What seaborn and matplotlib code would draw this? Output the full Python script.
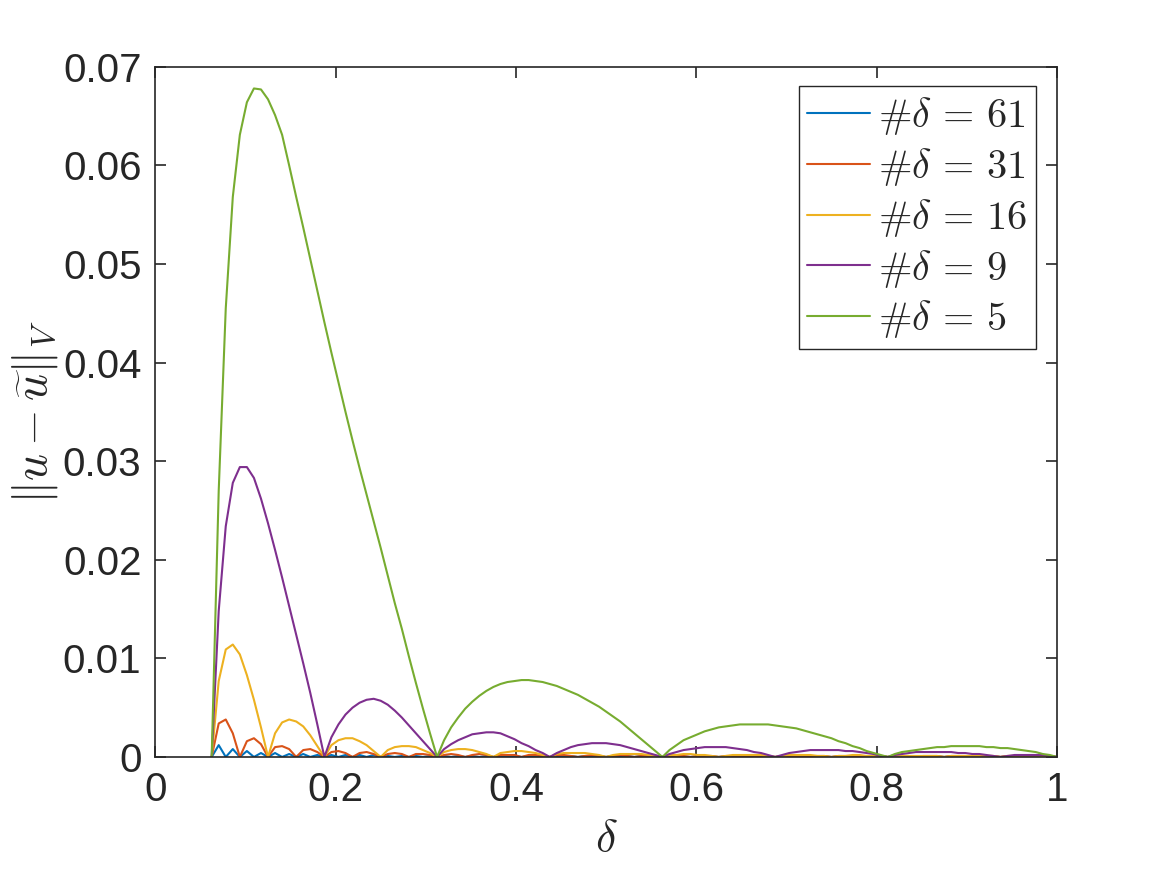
import numpy as np
import pandas as pd
import seaborn as sns
from matplotlib import pyplot as plt

# sampling grid of delta: k/128, k = 8..128 (vertex spacing)
delta = np.arange(8, 129) / 128

# error values, in units of 1e-4
err_61 = [0, 12, 0, 8, 0, 6, 0, 4, 0,
          4, 0, 3, 0, 3, 0, 2, 0,
          2, 0, 2, 0, 2, 0, 2, 0,
          1, 0, 1, 0, 1, 0, 1, 0,
          1, 0, 1, 0, 1, 0, 1, 0,
          1, 0, 1, 0, 1, 0, 1, 0,
          1, 0, 1, 0, 1, 0, 1, 0,
          1, 0, 1, 0, 1, 0, 1, 0,
          0.5, 0, 0.5, 0, 0.5, 0, 0.5, 0,
          0.5, 0, 0.5, 0, 0.5, 0, 0.5, 0,
          0.5, 0, 0.5, 0, 0.5, 0, 0.5, 0,
          0.5, 0, 0.5, 0, 0.5, 0, 0.5, 0,
          0.5, 0, 0.5, 0, 0.5, 0, 0.5, 0,
          0.5, 0, 0.5, 0, 0.5, 0, 0.5, 0,
          0.5, 0, 0.5, 0, 0.5, 0, 0.5, 0]
err_31 = [0, 34, 38, 24, 0, 16, 19, 13, 0,
          10, 11, 8, 0, 7, 8, 5, 0,
          5, 6, 4, 0, 4, 5, 3, 0,
          3, 4, 3, 0, 3, 3, 2, 0,
          2, 3, 2, 0, 2, 3, 2, 0,
          2, 2, 2, 0, 2, 2, 1, 0,
          2, 2, 1, 0, 1, 2, 1, 0,
          1, 2, 1, 0, 1, 1, 1, 0,
          1, 1, 1, 0, 1, 1, 1, 0,
          1, 1, 1, 0, 1, 1, 1, 0,
          1, 1, 1, 0, 1, 1, 1, 0,
          1, 1, 1, 0, 1, 1, 1, 0,
          1, 1, 1, 0, 1, 1, 1, 0,
          1, 1, 1, 0, 1, 1, 1, 0,
          1, 1, 1, 0, 1, 1, 1, 0]
err_16 = [0, 77, 109, 114, 104, 83, 58, 30, 0,
          24, 35, 38, 36, 31, 22, 11, 0,
          12, 17, 19, 19, 16, 12, 6, 0,
          7, 10, 11, 11, 10, 7, 4, 0,
          5, 7, 8, 8, 7, 5, 3, 0,
          4, 5, 6, 6, 5, 4, 2, 0,
          3, 4, 4, 4, 4, 3, 2, 0,
          2, 3, 3, 3, 3, 2, 1, 0,
          2, 2, 3, 3, 2, 2, 1, 0,
          1, 2, 2, 2, 2, 2, 1, 0,
          1, 2, 2, 2, 2, 1, 1, 0,
          1, 1, 2, 2, 1, 1, 1, 0,
          1, 1, 1, 1, 1, 1, 1, 0,
          1, 1, 1, 1, 1, 1, 1, 0,
          1, 1, 1, 1, 1, 1, 0, 0]
err_9 = [0, 148, 234, 278, 294, 294, 283, 262, 237,
         210, 182, 153, 124, 95, 65, 33, 0,
         20, 33, 43, 50, 55, 58, 59, 57,
         53, 47, 40, 32, 24, 16, 8, 0,
         8, 13, 17, 20, 23, 24, 25, 25,
         24, 21, 18, 14, 11, 7, 4, 0,
         4, 7, 10, 12, 13, 14, 14, 14,
         13, 12, 10, 8, 6, 4, 2, 0,
         3, 5, 7, 8, 9, 10, 10, 10,
         10, 9, 8, 7, 5, 4, 2, 0,
         2, 4, 5, 6, 7, 7, 7, 7,
         7, 6, 6, 5, 4, 3, 1, 0,
         2, 3, 4, 5, 5, 5, 5, 5,
         5, 4, 4, 3, 3, 2, 1, 0,
         1, 2, 2, 2, 2, 2, 1, 0]
err_5 = [0, 270, 455, 568, 631, 664, 678, 677, 667,
         651, 631, 600, 568, 537, 505, 473, 441,
         410, 380, 350, 321, 293, 266, 239, 212,
         184, 156, 130, 102, 75, 49, 24, 0,
         17, 30, 40, 49, 56, 62, 67, 71,
         74, 76, 77, 78, 78, 77, 76, 74,
         72, 69, 66, 63, 59, 55, 51, 46,
         41, 36, 30, 24, 18, 12, 6, 0,
         7, 12, 17, 20, 23, 26, 28, 30,
         31, 32, 33, 33, 33, 33, 33, 32,
         31, 30, 29, 27, 25, 23, 21, 19,
         16, 14, 11, 9, 6, 4, 2, 0,
         3, 5, 6, 7, 8, 9, 10, 10,
         11, 11, 11, 11, 11, 10, 10, 9,
         9, 8, 7, 6, 5, 3, 2, 0]

labels = [r'$\#\delta\, =\, 61$', r'$\#\delta\, =\, 31$', r'$\#\delta\, =\, 16$',
          r'$\#\delta\, =\, 9$', r'$\#\delta\, =\, 5$']
series = [err_61, err_31, err_16, err_9, err_5]
colors = ['#0072BD', '#D95319', '#EDB120', '#7E2F8E', '#77AC30']

x_ticks = [0, 0.2, 0.4, 0.6, 0.8, 1]
x_tick_labels = ['0', '0.2', '0.4', '0.6', '0.8', '1']
y_ticks = [0, 0.01, 0.02, 0.03, 0.04, 0.05, 0.06, 0.07]
y_tick_labels = ['0', '0.01', '0.02', '0.03', '0.04', '0.05', '0.06', '0.07']

frames = []
for lab, vals in zip(labels, series):
    frames.append(pd.DataFrame({'delta': delta, 'err': np.array(vals) * 1e-4, 'label': lab}))
data = pd.concat(frames, ignore_index=True)

sns.set_theme(style="ticks")
plt.rcParams['font.family'] = ['Liberation Sans', 'DejaVu Sans']
plt.rcParams['mathtext.fontset'] = 'cm'

fig = plt.figure(figsize=(11.67, 8.75), dpi=100)
ax = fig.add_axes([0.1331, 0.1349, 0.7725, 0.7888])

sns.lineplot(data=data, x='delta', y='err', hue='label', hue_order=labels,
             palette=colors, linewidth=1.5, estimator=None, sort=False, ax=ax)

ax.set_xlim(0, 1)
ax.set_ylim(0, 0.07)
ax.set_xticks(x_ticks)
ax.set_xticklabels(x_tick_labels)
ax.set_yticks(y_ticks)
ax.set_yticklabels(y_tick_labels)
ax.tick_params(direction='in', top=True, right=True, length=8, width=1.2,
               labelsize=29, pad=10, color='#262626', labelcolor='#262626')
for sp in ax.spines.values():
    sp.set_color('#262626')
    sp.set_linewidth(1.2)

ax.set_xlabel(r'$\delta$', fontsize=33, color='#262626', labelpad=6)
ax.set_ylabel(r'$\|u-\widetilde{u}\|_V$', fontsize=34, color='#262626', labelpad=2)

handles, _ = ax.get_legend_handles_labels()
leg = ax.legend(handles, labels, loc='upper right', bbox_to_anchor=(0.977, 0.972),
                borderaxespad=0, fontsize=29, frameon=True, fancybox=False,
                framealpha=1, edgecolor='#262626', labelspacing=0.22,
                handlelength=1.55, handletextpad=0.2, borderpad=0.22)
leg.get_frame().set_linewidth(1.0)

fig.savefig('out.png', dpi=100, facecolor='white')
